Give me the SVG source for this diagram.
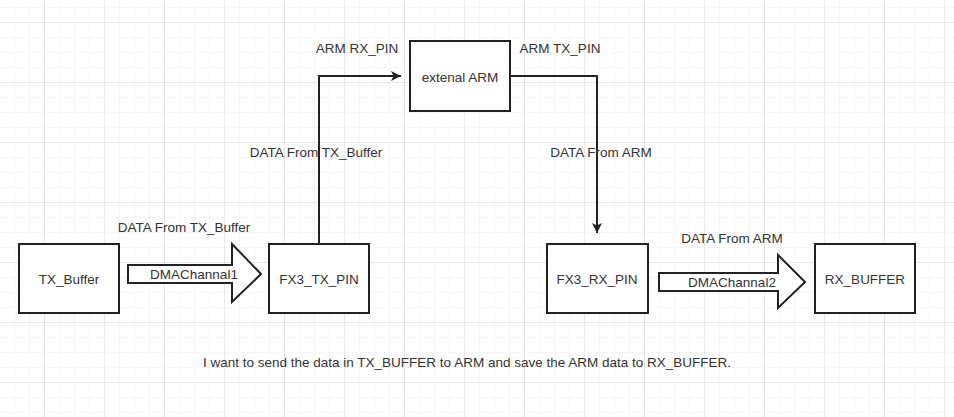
<svg xmlns="http://www.w3.org/2000/svg" width="954" height="417" viewBox="0 0 954 417">
<defs>
<pattern id="minor" x="14" y="7" width="15" height="15" patternUnits="userSpaceOnUse">
<path d="M0 0H15M0 0V15" fill="none" stroke="#eeeeee" stroke-width="1"/>
</pattern>
<pattern id="major" x="44" y="22" width="60" height="60" patternUnits="userSpaceOnUse">
<path d="M0 0H60M0 0V60" fill="none" stroke="#d9d9d9" stroke-width="1"/>
</pattern>
<marker id="ah" viewBox="0 0 10 10" refX="10" refY="5" markerWidth="10" markerHeight="10" markerUnits="userSpaceOnUse" orient="auto">
<path d="M0 0L10 5L0 10L2.5 5Z" fill="#222"/>
</marker>
<style>
.box{fill:#fff;stroke:#222;stroke-width:2}
.t{font-family:"Liberation Sans",Arial,sans-serif;font-size:13.5px;fill:#333;text-anchor:middle;dominant-baseline:central}
.edge{fill:none;stroke:#222;stroke-width:2}
.big{fill:#fff;stroke:#222;stroke-width:2;stroke-linejoin:miter}
</style>
</defs>
<rect width="954" height="417" fill="#fff"/>
<rect width="954" height="417" fill="url(#minor)"/>
<rect width="954" height="417" fill="url(#major)"/>
<g id="connectors">
<path class="edge" d="M319 244V76H401" marker-end="url(#ah)"/>
<path class="edge" d="M510 76H597V233" marker-end="url(#ah)"/>
<text class="t" x="316" y="152">DATA From TX_Buffer</text>
<text class="t" x="601" y="152">DATA From ARM</text>
<text class="t" x="357" y="48">ARM RX_PIN</text>
<text class="t" x="560" y="48">ARM TX_PIN</text>
</g>
<g id="arrow1">
<path class="big" d="M128 265H232V244L261 274L232 302V283H128Z"/>
<text class="t" x="194" y="274">DMAChannal1</text>
<text class="t" x="184" y="227">DATA From TX_Buffer</text>
</g>
<g id="arrow2">
<path class="big" d="M659 273H778V255L805 282L778 308V291H659Z"/>
<text class="t" x="732" y="282">DMAChannal2</text>
<text class="t" x="732" y="238">DATA From ARM</text>
</g>
<g id="tx_buffer">
<rect class="box" x="19" y="244" width="100" height="69"/>
<text class="t" x="69" y="279">TX_Buffer</text>
</g>
<g id="fx3_tx_pin">
<rect class="box" x="269" y="244" width="100" height="69"/>
<text class="t" x="319" y="279">FX3_TX_PIN</text>
</g>
<g id="extenal_arm">
<rect class="box" x="410" y="41" width="100" height="70"/>
<text class="t" x="460" y="77">extenal ARM</text>
</g>
<g id="fx3_rx_pin">
<rect class="box" x="547" y="244" width="101" height="69"/>
<text class="t" x="597" y="279">FX3_RX_PIN</text>
</g>
<g id="rx_buffer">
<rect class="box" x="815" y="244" width="100" height="69"/>
<text class="t" x="865" y="279">RX_BUFFER</text>
</g>
<text class="t" x="467" y="362">I want to send the data in TX_BUFFER to ARM and save the ARM data to RX_BUFFER.</text>
</svg>
